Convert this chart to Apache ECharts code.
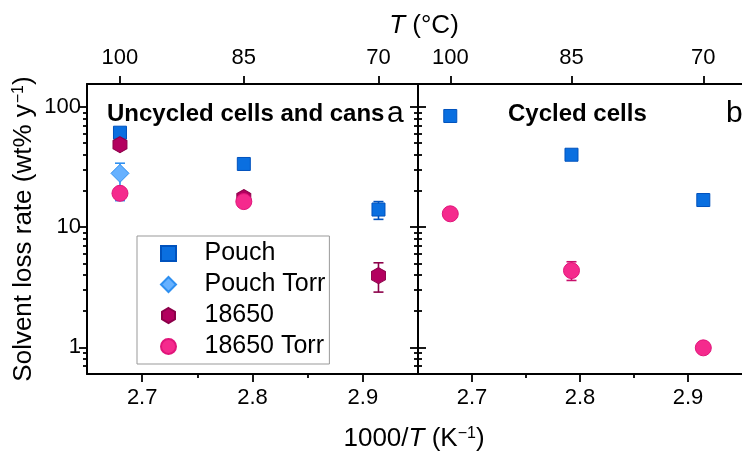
<!DOCTYPE html>
<html><head><meta charset="utf-8">
<script src="https://cdn.jsdelivr.net/npm/echarts@6/dist/echarts.min.js"></script>
<style>html,body{margin:0;padding:0;background:#fff}#c{width:742px;height:453px}</style>
</head><body><div id="c"></div>
<script>
// ---- tick labels ----
const tempTicksC = [100, 85, 70];          // top axis, T (°C)
const invTicks = [2.7, 2.8, 2.9];          // bottom axis, 1000/T
const invMinorTicks = [2.75, 2.85];
const yMajor = [1, 10, 100];
const yMinor = [0.7, 0.8, 0.9, 2, 3, 4, 5, 6, 7, 8, 9, 20, 30, 40, 50, 60, 70, 80, 90];
const seriesNames = ['Pouch', 'Pouch Torr', '18650', '18650 Torr'];

// ---- panel a: uncycled cells and cans ----
const aPouchT = [100, 85, 70];
const aPouch = [61, 33.5, 14.0];
const aPouchLo = [56, 31, 11.6];
const aPouchHi = [67, 36, 16.3];
const aPouchTorrT = [100];
const aPouchTorr = [28];
const aPouchTorrLo = [16.6];
const aPouchTorrHi = [34];
const a18650T = [100, 85, 70];
const a18650 = [48.5, 17.6, 3.95];
const a18650Lo = [45, 16.2, 2.88];
const a18650Hi = [52, 19, 5.05];
const a18650TorrT = [100, 85];
const a18650Torr = [19.1, 16.3];
const a18650TorrLo = [18.2, 15.6];
const a18650TorrHi = [20.2, 17.1];

// ---- panel b: cycled cells ----
const bPouchT = [100, 85, 70];
const bPouch = [84, 40, 16.8];
const bPouchLo = [78, 37, 15.5];
const bPouchHi = [90, 43.5, 18.3];
const b18650TorrT = [100, 85, 70];
const b18650Torr = [12.9, 4.35, 0.99];
const b18650TorrLo = [12.4, 3.6, 0.95];
const b18650TorrHi = [13.4, 5.15, 1.03];

const X_MIN = 2.65, X_MAX = 2.95, Y_MIN = 0.6, Y_MAX = 155;
const LY_MIN = Math.log10(Y_MIN), LY_MAX = Math.log10(Y_MAX);
const FONT = "'Liberation Sans', Arial, Helvetica, sans-serif";
const toInv = t => 1000 / (t + 273.15);
const AX = {color: '#000', width: 2};
const TK = {color: '#000', width: 1.8};
const MAJ = -8, MIN = -4;   // negative length: ticks drawn towards the plot

const COLORS = {
  'Pouch': {fill: '#0a6fe0', border: '#0052bd', err: '#0052bd'},
  'Pouch Torr': {fill: '#66b1ff', border: '#2e8ff0', err: '#2e8ff0'},
  '18650': {fill: '#b3005f', border: '#8c0049', err: '#8c0049'},
  '18650 Torr': {fill: '#f52a8d', border: '#e0157a', err: '#c8106c'}
};
const HEX = 'path://M0,-10L8.66,-5L8.66,5L0,10L-8.66,5L-8.66,-5Z';
const SYMBOLS = {
  'Pouch': ['rect', 13],
  'Pouch Torr': ['diamond', [18, 18]],
  '18650': [HEX, [14, 16]],
  '18650 Torr': ['circle', 16]
};
const LEGEND_ICONS = {
  'Pouch': 'path://M0,0L10,0L10,10L0,10Z',
  'Pouch Torr': 'path://M5,0L10,5L5,10L0,5Z',
  '18650': HEX,
  '18650 Torr': 'circle'
};

function xAxes(g) {
  const top = tempTicksC.map(toInv);
  return [
    {type: 'value', gridIndex: g, position: 'bottom', min: X_MIN, max: X_MAX,
      axisLine: {show: true, onZero: false, lineStyle: AX}, splitLine: {show: false},
      axisTick: {show: true, inside: true, length: MAJ, lineStyle: TK, customValues: invTicks},
      axisLabel: {show: true, customValues: invTicks, formatter: v => v.toFixed(1),
        fontSize: 22, color: '#000', margin: 13, fontFamily: FONT}},
    {type: 'value', gridIndex: g, position: 'bottom', min: X_MIN, max: X_MAX,
      axisLine: {show: false, onZero: false}, splitLine: {show: false},
      axisTick: {show: true, inside: true, length: MIN, lineStyle: TK, customValues: invMinorTicks},
      axisLabel: {show: false}},
    {type: 'value', gridIndex: g, position: 'top', min: X_MIN, max: X_MAX,
      axisLine: {show: true, onZero: false, lineStyle: AX}, splitLine: {show: false},
      axisTick: {show: true, inside: true, length: MAJ, lineStyle: TK, customValues: top},
      axisLabel: {show: true, customValues: top, formatter: v => String(Math.round(1000 / v - 273.15)),
        fontSize: 22, color: '#000', margin: 15, fontFamily: FONT}}
  ];
}

function yAxes(g, side, withLabels, withName) {
  const main = {type: 'log', logBase: 10, gridIndex: g, position: side, min: Y_MIN, max: Y_MAX,
    axisLine: {show: true, onZero: false, lineStyle: AX}, axisTick: {show: false}, axisLabel: {show: false},
    splitLine: {show: false}, minorTick: {show: false}};
  if (withName) {
    Object.assign(main, {
      name: 'Solvent loss rate (wt% y{sup|−1})', nameLocation: 'middle', nameGap: 50, nameRotate: 90,
      nameTextStyle: {fontSize: 26, color: '#000', fontFamily: FONT,
        rich: {sup: {fontSize: 16, verticalAlign: 'top', color: '#000', fontFamily: FONT, padding: [0, 0, 0, 1]}}}
    });
  }
  return [
    main,
    {type: 'value', gridIndex: g, position: side, min: LY_MIN, max: LY_MAX,
      axisLine: {show: false, onZero: false}, splitLine: {show: false},
      axisTick: {show: true, inside: true, length: MAJ, lineStyle: TK, customValues: yMajor.map(Math.log10)},
      axisLabel: withLabels ? {show: true, customValues: yMajor.map(Math.log10),
        formatter: v => String(Math.round(Math.pow(10, v))), fontSize: 22, color: '#000', margin: 6, fontFamily: FONT}
        : {show: false}},
    {type: 'value', gridIndex: g, position: side, min: LY_MIN, max: LY_MAX,
      axisLine: {show: false, onZero: false}, splitLine: {show: false},
      axisTick: {show: true, inside: true, length: MIN, lineStyle: TK, customValues: yMinor.map(Math.log10)},
      axisLabel: {show: false}}
  ];
}

function scatter(name, temps, vals, xi, yi, z) {
  const c = COLORS[name], s = SYMBOLS[name];
  return {type: 'scatter', name, xAxisIndex: xi, yAxisIndex: yi, symbol: s[0], symbolSize: s[1], z,
    itemStyle: {color: c.fill, borderColor: c.border, borderWidth: 1, opacity: 1},
    emphasis: {disabled: true},
    data: temps.map((t, i) => [toInv(t), vals[i]])};
}
function errs(name, temps, lo, hi, xi, yi, z) {
  const col = COLORS[name].err;
  return {type: 'custom', name: name + ' error', xAxisIndex: xi, yAxisIndex: yi, z, silent: true,
    data: temps.map((t, i) => [toInv(t), lo[i], hi[i]]),
    encode: {x: 0, y: [1, 2]},
    renderItem: (params, api) => {
      const x = api.value(0);
      const p1 = api.coord([x, api.value(1)]);
      const p2 = api.coord([x, api.value(2)]);
      const w = 5, st = {stroke: col, lineWidth: 1.6};
      return {type: 'group', children: [
        {type: 'line', shape: {x1: p1[0], y1: p1[1], x2: p2[0], y2: p2[1]}, style: st},
        {type: 'line', shape: {x1: p1[0] - w, y1: p1[1], x2: p1[0] + w, y2: p1[1]}, style: st},
        {type: 'line', shape: {x1: p2[0] - w, y1: p2[1], x2: p2[0] + w, y2: p2[1]}, style: st}
      ]};
    }};
}

const xAxis = [...xAxes(0), ...xAxes(1)];            // 0-2 grid0, 3-5 grid1
const yAxis = [...yAxes(0, 'left', true, true),        // 0-2
               ...yAxes(0, 'right', false, false),     // 3-5
               ...yAxes(1, 'left', false, false)];     // 6-8

const series = [
  scatter('Pouch', aPouchT, aPouch, 0, 0, 2), errs('Pouch', aPouchT, aPouchLo, aPouchHi, 0, 0, 2),
  scatter('Pouch Torr', aPouchTorrT, aPouchTorr, 0, 0, 2), errs('Pouch Torr', aPouchTorrT, aPouchTorrLo, aPouchTorrHi, 0, 0, 2),
  scatter('18650', a18650T, a18650, 0, 0, 2), errs('18650', a18650T, a18650Lo, a18650Hi, 0, 0, 2),
  scatter('18650 Torr', a18650TorrT, a18650Torr, 0, 0, 2), errs('18650 Torr', a18650TorrT, a18650TorrLo, a18650TorrHi, 0, 0, 2),
  scatter('Pouch', bPouchT, bPouch, 3, 6, 2), errs('Pouch', bPouchT, bPouchLo, bPouchHi, 3, 6, 2),
  scatter('18650 Torr', b18650TorrT, b18650Torr, 3, 6, 2), errs('18650 Torr', b18650TorrT, b18650TorrLo, b18650TorrHi, 3, 6, 2)
];

const rich = {
  i: {fontStyle: 'italic', fontSize: 26, fontFamily: FONT, fill: '#000'},
  n: {fontSize: 26, fontFamily: FONT, fill: '#000'},
  sup: {fontSize: 16, fontFamily: FONT, fill: '#000', verticalAlign: 'top'}
};

const chart = echarts.init(document.getElementById('c'), null, {renderer: 'canvas'});
chart.setOption({
  animation: false,
  backgroundColor: '#fff',
  grid: [
    {left: 87, top: 84, width: 331, height: 290},
    {left: 418, top: 84, width: 331, height: 290}
  ],
  xAxis, yAxis, series,
  legend: {
    data: seriesNames.map(n => ({name: n, icon: LEGEND_ICONS[n]})),
    orient: 'vertical', left: 137, top: 236,
    itemWidth: 62, itemHeight: 15, itemGap: 6, symbolKeepAspect: true,
    padding: [5, 4, 5, 23], borderColor: '#999', borderWidth: 1, backgroundColor: '#fff',
    textStyle: {fontSize: 25, color: '#000', fontFamily: FONT, lineHeight: 25},
    selectedMode: false
  },
  graphic: [
    {type: 'text', x: 424, y: 26, style: {text: '{i|T}{n| (°C)}', rich, align: 'center', verticalAlign: 'middle'}},
    {type: 'text', x: 414, y: 439, style: {text: '{n|1000/}{i|T}{n| (K}{sup|−1}{n|)}', rich, align: 'center', verticalAlign: 'middle'}},
    {type: 'text', x: 107, y: 114, style: {text: 'Uncycled cells and cans', font: "bold 24px 'Liberation Sans', Arial, sans-serif", fill: '#000', align: 'left', verticalAlign: 'middle'}},
    {type: 'text', x: 387, y: 114, style: {text: 'a', font: "30px 'Liberation Sans', Arial, sans-serif", fill: '#000', align: 'left', verticalAlign: 'middle'}},
    {type: 'text', x: 508, y: 114, style: {text: 'Cycled cells', font: "bold 24px 'Liberation Sans', Arial, sans-serif", fill: '#000', align: 'left', verticalAlign: 'middle'}},
    {type: 'text', x: 726, y: 114, style: {text: 'b', font: "30px 'Liberation Sans', Arial, sans-serif", fill: '#000', align: 'left', verticalAlign: 'middle'}}
  ]
});
</script></body></html>
